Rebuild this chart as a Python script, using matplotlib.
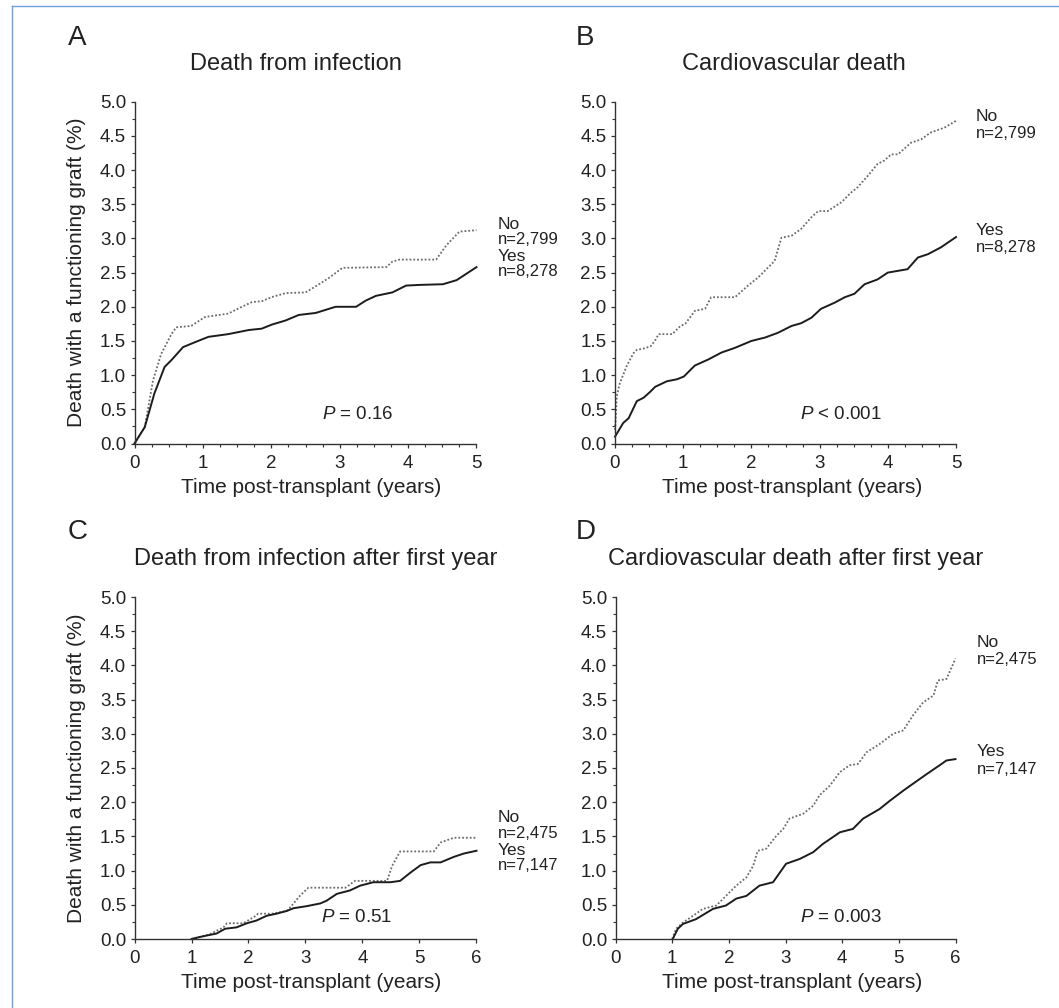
import matplotlib
matplotlib.use("Agg")
import matplotlib.pyplot as plt
from matplotlib.lines import Line2D
from matplotlib.ticker import MultipleLocator, NullLocator

plt.rcParams['font.family'] = ['Liberation Sans', 'DejaVu Sans']
plt.rcParams['mathtext.fontset'] = 'custom'
plt.rcParams['mathtext.it'] = 'Liberation Sans:italic'
plt.rcParams['mathtext.rm'] = 'Liberation Sans'

# --- A: death from infection (years, %)
a_no_t = [0, 0.15, 0.27, 0.39, 0.54, 0.61, 0.83, 1.03, 1.37, 1.57, 1.72, 1.86, 2.0, 2.21,
          2.5, 2.65, 2.84, 3.04, 3.68, 3.77, 3.87, 4.41, 4.56, 4.75, 5.0]
a_no_v = [0, 0.24, 0.92, 1.31, 1.6, 1.7, 1.72, 1.85, 1.9, 2.0, 2.07, 2.08, 2.14, 2.2,
          2.21, 2.3, 2.42, 2.57, 2.58, 2.66, 2.69, 2.69, 2.9, 3.1, 3.12]
a_yes_t = [0, 0.15, 0.29, 0.44, 0.54, 0.71, 0.88, 1.08, 1.37, 1.67, 1.86, 2.01, 2.21, 2.4,
           2.65, 2.94, 3.24, 3.38, 3.53, 3.77, 3.97, 4.17, 4.51, 4.71, 5.0]
a_yes_v = [0, 0.24, 0.73, 1.12, 1.22, 1.41, 1.48, 1.56, 1.6, 1.66, 1.68, 1.74, 1.8, 1.88,
           1.91, 2.0, 2.0, 2.09, 2.16, 2.21, 2.31, 2.32, 2.33, 2.39, 2.58]

# --- B: cardiovascular death
b_no_t = [0, 0.015, 0.025, 0.07, 0.17, 0.27, 0.32, 0.42, 0.52, 0.59, 0.64, 0.84, 0.96, 1.03,
          1.17, 1.32, 1.41, 1.76, 1.95, 2.1, 2.22, 2.34, 2.44, 2.59, 2.73, 2.88, 2.98, 3.12,
          3.32, 3.46, 3.56, 3.71, 3.85, 3.95, 4.05, 4.15, 4.34, 4.49, 4.63, 4.83, 5.0]
b_no_v = [0.2, 0.45, 0.69, 0.88, 1.13, 1.32, 1.37, 1.39, 1.42, 1.51, 1.6, 1.6, 1.72, 1.75,
          1.94, 1.97, 2.14, 2.14, 2.31, 2.43, 2.55, 2.67, 3.01, 3.04, 3.14, 3.31, 3.4, 3.4,
          3.53, 3.67, 3.75, 3.92, 4.09, 4.14, 4.23, 4.23, 4.4, 4.45, 4.55, 4.62, 4.72]
b_yes_t = [0, 0.12, 0.2, 0.32, 0.42, 0.52, 0.59, 0.76, 0.91, 1.01, 1.17, 1.37, 1.56, 1.76,
           2.0, 2.2, 2.39, 2.59, 2.73, 2.88, 3.02, 3.22, 3.37, 3.51, 3.66, 3.85, 4.0, 4.29,
           4.44, 4.59, 4.78, 5.0]
b_yes_v = [0.1, 0.3, 0.37, 0.62, 0.67, 0.76, 0.83, 0.91, 0.94, 0.98, 1.14, 1.23, 1.33, 1.4,
           1.5, 1.55, 1.62, 1.72, 1.76, 1.84, 1.97, 2.06, 2.14, 2.19, 2.33, 2.4, 2.5, 2.55,
           2.72, 2.77, 2.87, 3.02]

# --- C: death from infection after first year
c_no_t = [1.0, 1.32, 1.56, 1.62, 1.91, 2.11, 2.17, 2.41, 2.67, 2.73, 2.9, 3.05, 3.7, 3.87,
          4.43, 4.52, 4.66, 5.25, 5.37, 5.6, 6.0]
c_no_v = [0, 0.07, 0.17, 0.23, 0.23, 0.33, 0.37, 0.37, 0.41, 0.46, 0.63, 0.75, 0.75, 0.85,
          0.85, 1.07, 1.28, 1.28, 1.41, 1.48, 1.48]
c_yes_t = [1.0, 1.15, 1.44, 1.59, 1.79, 1.97, 2.14, 2.32, 2.49, 2.67, 2.79, 3.02, 3.26, 3.37,
           3.55, 3.78, 3.96, 4.19, 4.49, 4.66, 4.84, 5.02, 5.19, 5.37, 5.6, 5.78, 6.0]
c_yes_v = [0, 0.03, 0.08, 0.15, 0.17, 0.23, 0.27, 0.34, 0.37, 0.41, 0.45, 0.48, 0.52, 0.56,
           0.66, 0.71, 0.78, 0.83, 0.83, 0.85, 0.97, 1.08, 1.12, 1.12, 1.2, 1.25, 1.29]

# --- D: cardiovascular death after first year
d_no_t = [1.0, 1.07, 1.19, 1.37, 1.54, 1.78, 1.95, 2.13, 2.31, 2.43, 2.51, 2.66, 2.84, 2.96,
          3.07, 3.31, 3.49, 3.6, 3.78, 3.96, 4.13, 4.28, 4.43, 4.66, 4.9, 5.08, 5.25, 5.43,
          5.61, 5.69, 5.84, 6.0]
d_no_v = [0, 0.15, 0.24, 0.34, 0.44, 0.49, 0.63, 0.78, 0.9, 1.07, 1.29, 1.32, 1.51, 1.61,
          1.76, 1.83, 1.95, 2.1, 2.24, 2.44, 2.54, 2.56, 2.73, 2.85, 3.0, 3.05, 3.27, 3.46,
          3.56, 3.78, 3.8, 4.1]
d_yes_t = [1.01, 1.1, 1.19, 1.42, 1.72, 1.95, 2.13, 2.31, 2.54, 2.78, 3.01, 3.25, 3.49, 3.66,
           3.96, 4.19, 4.37, 4.66, 4.84, 5.08, 5.25, 5.49, 5.72, 5.84, 6.0]
d_yes_v = [0, 0.15, 0.22, 0.29, 0.44, 0.49, 0.59, 0.63, 0.78, 0.83, 1.1, 1.17, 1.27, 1.39,
           1.56, 1.61, 1.76, 1.9, 2.02, 2.17, 2.27, 2.41, 2.54, 2.61, 2.63]

letters = ["A", "B", "C", "D"]
titles = ["Death from infection", "Cardiovascular death",
          "Death from infection after first year", "Cardiovascular death after first year"]
p_texts = ["= 0.16", "< 0.001", "= 0.51", "= 0.003"]
n_no = ["n=2,799", "n=2,799", "n=2,475", "n=2,475"]
n_yes = ["n=8,278", "n=8,278", "n=7,147", "n=7,147"]
x_max = [5, 5, 6, 6]

W, H = 1059, 1008
fig = plt.figure(figsize=(W / 100, H / 100), dpi=100)

def px_box(x0, x1, ytop, ybot):
    return [x0 / W, 1 - ybot / H, (x1 - x0) / W, (ybot - ytop) / H]

boxes = [px_box(134.5, 476.5, 101.7, 443.5), px_box(615, 956, 101.7, 443.5),
         px_box(134.5, 476.5, 597, 939), px_box(615.5, 955.5, 597, 939)]

series = [(a_no_t, a_no_v, a_yes_t, a_yes_v), (b_no_t, b_no_v, b_yes_t, b_yes_v),
          (c_no_t, c_no_v, c_yes_t, c_yes_v), (d_no_t, d_no_v, d_yes_t, d_yes_v)]

# label placement in data units (no-label, n, yes-label, n) y-centres
lab_y = [(3.21, 2.99, 2.74, 2.52), (4.79, 4.54, 3.11, 2.86),
         (1.77, 1.54, 1.29, 1.07), (4.33, 4.08, 2.74, 2.48)]
lab_x = [5.31, 5.29, 6.37, 6.37]
p_pos = [(3.27, 0.42), (3.31, 0.42), (3.9, 0.31), (3.98, 0.32)]

axcol = "#333333"
txtcol = "#222222"
for i in range(4):
    ax = fig.add_axes(boxes[i])
    nt, nv, yt, yv = series[i]
    ax.plot(nt, nv, color="#6a6a6a", lw=1.3, ls=(0, (1, 1.1)), clip_on=False)
    ax.plot(yt, yv, color="#1c1c1c", lw=1.4, clip_on=False)
    ax.set_xlim(0, x_max[i])
    ax.set_ylim(0, 5)
    ax.xaxis.set_major_locator(MultipleLocator(1))
    if x_max[i] == 5:
        ax.xaxis.set_minor_locator(MultipleLocator(0.25))
    else:
        ax.xaxis.set_minor_locator(NullLocator())
    ax.yaxis.set_major_locator(MultipleLocator(0.5))
    ax.yaxis.set_minor_locator(MultipleLocator(0.25))
    ax.yaxis.set_major_formatter(plt.FormatStrFormatter("%.1f"))
    for s in ["top", "right"]:
        ax.spines[s].set_visible(False)
    for s in ["left", "bottom"]:
        ax.spines[s].set_color(axcol)
        ax.spines[s].set_linewidth(1.0)
    ax.tick_params(which="major", direction="out", length=3, width=0.9, color=axcol,
                   labelsize=13.5, labelcolor=txtcol)
    ax.tick_params(which="minor", direction="out", length=2, width=0.8, color=axcol)
    ax.tick_params(axis="x", pad=5)
    ax.tick_params(axis="y", pad=3)

    ly = lab_y[i]
    ax.text(lab_x[i], ly[0], "No", fontsize=12.5, va="center", ha="left", color=txtcol)
    ax.text(lab_x[i], ly[1], n_no[i], fontsize=12, va="center", ha="left", color=txtcol)
    ax.text(lab_x[i], ly[2], "Yes", fontsize=12.5, va="center", ha="left", color=txtcol)
    ax.text(lab_x[i], ly[3], n_yes[i], fontsize=12, va="center", ha="left", color=txtcol)
    ax.text(p_pos[i][0], p_pos[i][1], r"$\mathit{P}$" + " " + p_texts[i],
            fontsize=13.5, ha="center", va="center", color=txtcol)

# titles, panel letters, axis labels (pixel positions)
title_x = [296, 794, 316, 796]
title_base = [70, 70, 565, 565]
letter_x = [68, 576, 68, 576]
letter_base = [45, 45, 539, 539]
xlabel_x = [311, 792, 311, 792]
xlabel_y = [487, 487, 982, 982]
for i in range(4):
    fig.text(title_x[i] / W, 1 - title_base[i] / H, titles[i], fontsize=17, ha="center",
             va="baseline", color=txtcol)
    fig.text(letter_x[i] / W, 1 - letter_base[i] / H, letters[i], fontsize=20, ha="left",
             va="baseline", color=txtcol)
    fig.text(xlabel_x[i] / W, 1 - xlabel_y[i] / H, "Time post-transplant (years)", fontsize=15,
             ha="center", va="center", color=txtcol)
for yc in [272.6, 768]:
    fig.text(77 / W, 1 - yc / H, "Death with a functioning graft (%)", fontsize=15,
             rotation=90, ha="center", va="center", color=txtcol)

# thin blue frame (top and left edges)
fig.add_artist(Line2D([12 / W, 1], [1 - 6 / H, 1 - 6 / H], transform=fig.transFigure,
                      color="#6f9fdc", lw=1.0))
fig.add_artist(Line2D([12 / W, 12 / W], [0, 1 - 6 / H], transform=fig.transFigure,
                      color="#6f9fdc", lw=1.0))

fig.savefig("out.png", dpi=100, facecolor="white")
